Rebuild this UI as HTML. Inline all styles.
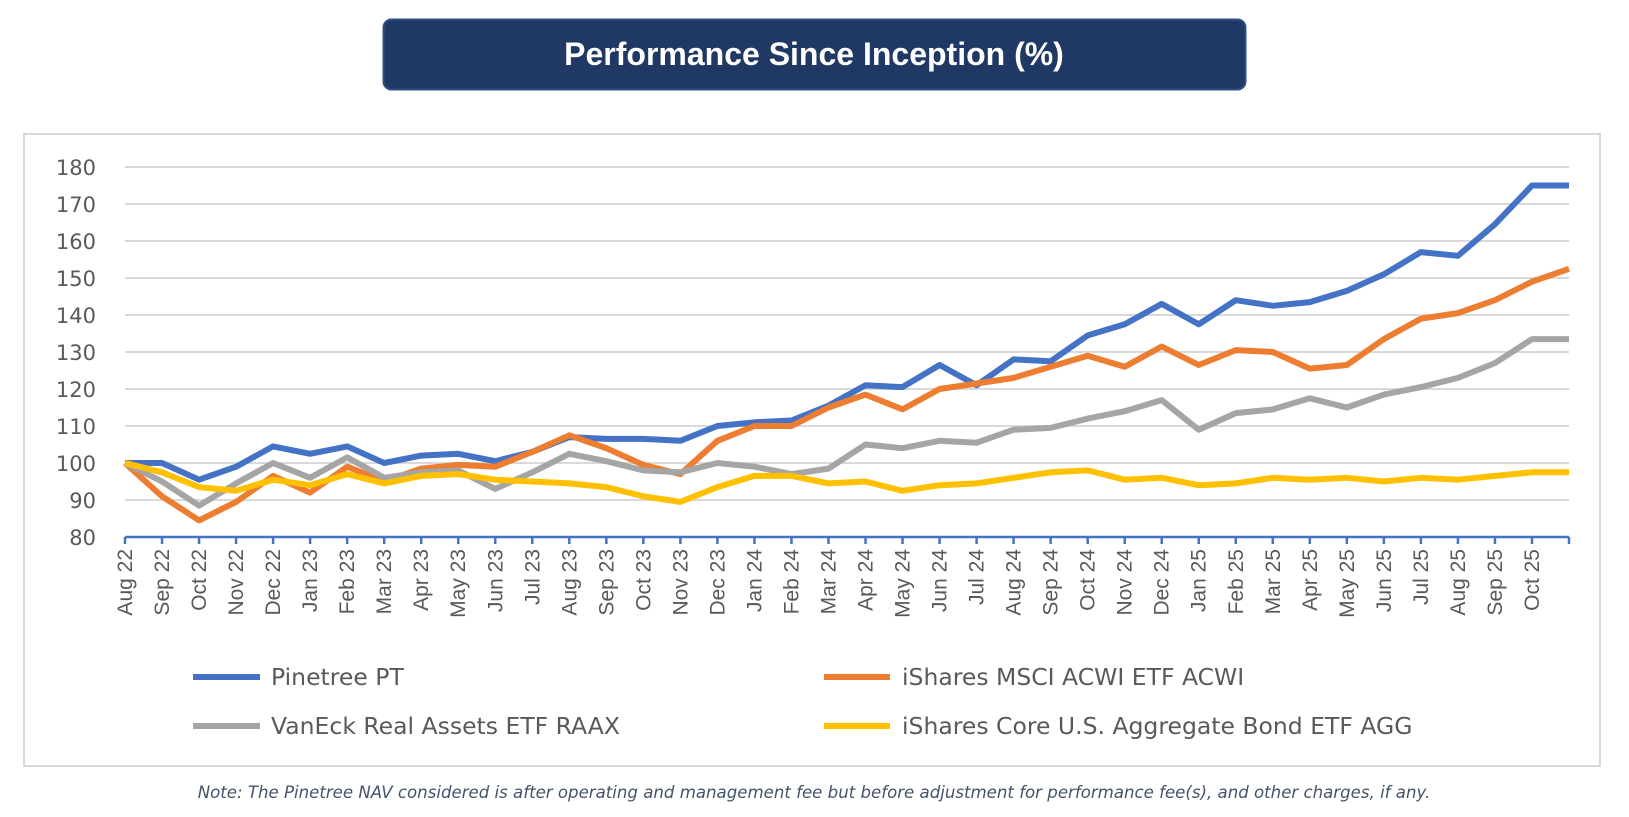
<!DOCTYPE html>
<html><head><meta charset="utf-8">
<style>
body{margin:0;background:#fff;width:1629px;height:817px;overflow:hidden;font-family:"Liberation Sans",sans-serif;}
svg{position:absolute;left:0;top:0}
</style></head><body>
<svg id="s" width="1629" height="817" xmlns="http://www.w3.org/2000/svg">
<rect x="383.5" y="19.5" width="862" height="70" rx="8" fill="#1f3864" stroke="#2f4f8a" stroke-width="2"/>
<text x="814" y="65" text-anchor="middle" font-family="Liberation Sans, sans-serif" font-weight="bold" font-size="32" fill="#fff">Performance Since Inception (%)</text>
<rect x="24" y="134" width="1576" height="632" fill="#fff" stroke="#d9d9d9" stroke-width="2"/>
<g id="grid"></g>
<g id="ylab" font-family="DejaVu Sans, sans-serif" font-size="21" fill="#595959" text-anchor="end"></g>
<g id="xlab" font-family="Liberation Sans, sans-serif" font-size="21" fill="#595959" text-anchor="end"></g>
<g id="lines" fill="none" stroke-width="6" stroke-linejoin="round"></g>
<g font-family="DejaVu Sans, sans-serif" font-size="23.5" fill="#595959">
<line x1="193" y1="677" x2="260" y2="677" stroke="#4472c4" stroke-width="6"/><text x="271" y="685">Pinetree PT</text>
<line x1="824" y1="677" x2="890" y2="677" stroke="#ed7d31" stroke-width="6"/><text x="902" y="685">iShares MSCI ACWI ETF ACWI</text>
<line x1="193" y1="726" x2="260" y2="726" stroke="#a5a5a5" stroke-width="6"/><text x="271" y="734">VanEck Real Assets ETF RAAX</text>
<line x1="824" y1="726" x2="890" y2="726" stroke="#ffc000" stroke-width="6"/><text x="902" y="734">iShares Core U.S. Aggregate Bond ETF AGG</text>
</g>
<text x="814" y="798" text-anchor="middle" font-family="DejaVu Sans, sans-serif" font-style="italic" font-size="16.6" fill="#44546a">Note: The Pinetree NAV considered is after operating and management fee but before adjustment for performance fee(s), and other charges, if any.</text>
</svg>
<script>
var NS="http://www.w3.org/2000/svg";
function el(p,t,a,txt){var e=document.createElementNS(NS,t);for(var k in a)e.setAttribute(k,a[k]);if(txt)e.textContent=txt;document.getElementById(p).appendChild(e);}
var L=125,R=1569,N=40,dx=(R-L)/(N-1);
function Y(v){return 167+(180-v)*3.7;}
for(var v=90;v<=180;v+=10){el("grid","line",{x1:L,x2:R,y1:Y(v),y2:Y(v),stroke:"#d9d9d9","stroke-width":2});}
for(var v=80;v<=180;v+=10){el("ylab","text",{x:96,y:Y(v)+8},String(v));}
el("grid","line",{x1:L,x2:R,y1:Y(80),y2:Y(80),stroke:"#4472c4","stroke-width":2.5});
var m=["Jan","Feb","Mar","Apr","May","Jun","Jul","Aug","Sep","Oct","Nov","Dec"];
for(var i=0;i<N;i++){var x=L+i*dx;el("grid","line",{x1:x,x2:x,y1:Y(80),y2:Y(80)+7,stroke:"#4472c4","stroke-width":2.5});
 if(i<39){var mi=(7+i)%12,yr=22+Math.floor((7+i)/12);var lab=m[mi]+" "+yr;if(i==38)lab="Oct 25";
 el("xlab","text",{transform:"translate("+(x+7)+","+(Y(80)+12)+") rotate(-90)"},lab);}}
var S=[["#4472c4",[100,100,95.5,99,104.5,102.5,104.5,100,102,102.5,100.5,103,107,106.5,106.5,106,110,111,111.5,115.5,121,120.5,126.5,121,128,127.5,134.5,137.5,143,137.5,144,142.5,143.5,146.5,151,157,156,164.5,175,175]],
["#ed7d31",[100,91,84.5,89.5,96.5,92,99,95,98.5,99.5,99,103,107.5,104,99.5,97,106,110,110,115,118.5,114.5,120,121.5,123,126,129,126,131.5,126.5,130.5,130,125.5,126.5,133.5,139,140.5,144,149,152.5]],
["#a5a5a5",[100,95,88.5,94.5,100,96,101.5,96,97.5,98,93,97.5,102.5,100.5,98,97.5,100,99,97,98.5,105,104,106,105.5,109,109.5,112,114,117,109,113.5,114.5,117.5,115,118.5,120.5,123,127,133.5,133.5]],
["#ffc000",[100,97.5,93.5,92.5,95.5,94,97,94.5,96.5,97,95.5,95,94.5,93.5,91,89.5,93.5,96.5,96.5,94.5,95,92.5,94,94.5,96,97.5,98,95.5,96,94,94.5,96,95.5,96,95,96,95.5,96.5,97.5,97.5]]];
S.forEach(function(s){var p=s[1].map(function(v,i){return (L+i*dx).toFixed(1)+","+Y(v).toFixed(1);}).join(" ");el("lines","polyline",{points:p,stroke:s[0]});});
</script>
</body></html>
